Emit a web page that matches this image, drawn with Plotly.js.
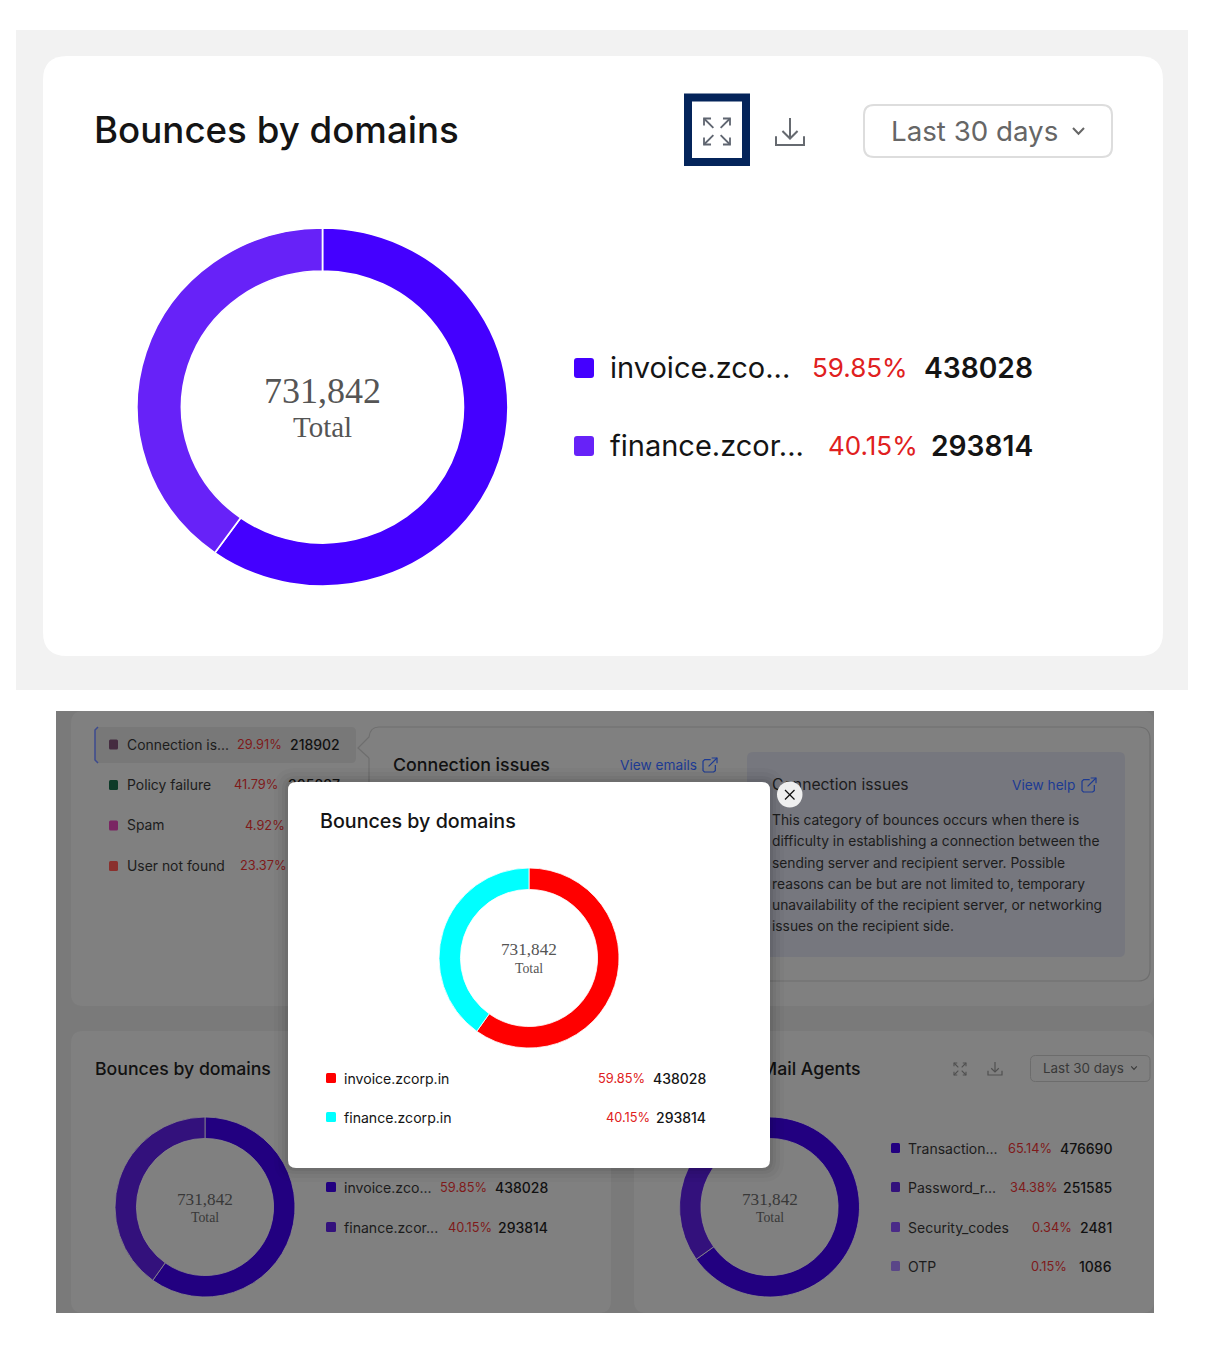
<!DOCTYPE html>
<html><head><meta charset="utf-8">
<script src="https://cdn.plot.ly/plotly-3.0.1.min.js"></script>
<style>html,body{margin:0;padding:0;background:#fff}#base,#modal{position:absolute;left:0;top:0;width:1220px;height:1358px}</style>
</head><body>
<div id="base"></div><div id="modal"></div>
<script>
// ---- data ----
const chartTitle = "Bounces by domains";
const totalText = "731,842";
const totalLabel = "Total";
const rangeLabel = "Last 30 days";
const domainValues = [438028, 293814];
const domainPct = ["59.85%", "40.15%"];
const domainShort = ["invoice.zco...", "finance.zcor..."];
const domainFull = ["invoice.zcorp.in", "finance.zcorp.in"];
const agentValues = [476690, 251585, 2481, 1086];
const agentPct = ["65.14%", "34.38%", "0.34%", "0.15%"];
const agentNames = ["Transaction...", "Password_r...", "Security_codes", "OTP"];
const categoryNames = ["Connection is...", "Policy failure", "Spam", "User not found"];
const categoryPct = ["29.91%", "41.79%", "4.92%", "23.37%"];
const categoryValues = ["218902", "305837", "", ""];
const helpLines = [
 "This category of bounces occurs when there is",
 "difficulty in establishing a connection between the",
 "sending server and recipient server. Possible",
 "reasons can be but are not limited to, temporary",
 "unavailability of the recipient server, or networking",
 "issues on the recipient side."];
// ---- styles ----
const topColors = ["#4400ff", "#6722f8"];
const dimDomainColors = ["#220080", "#33117c"];
const dimAgentColors = ["#220080", "#33117c", "#4a2a88", "#5a4688"];
const modalColors = ["#ff0000", "#00ffff"];
const categoryColors = ["#452c40", "#0d3a28", "#7a2563", "#8a302d"];
const W = 1220, H = 1358;
const FONT = "Inter", SERIF = "Liberation Serif";
const px = x => x / W, py = y => 1 - y / H;

function rr(x0, y0, x1, y1, r) {
  const P = (x, y) => px(x) + "," + py(y);
  return "M" + P(x0 + r, y0) + "L" + P(x1 - r, y0) + "Q" + P(x1, y0) + " " + P(x1, y0 + r) +
    "L" + P(x1, y1 - r) + "Q" + P(x1, y1) + " " + P(x1 - r, y1) +
    "L" + P(x0 + r, y1) + "Q" + P(x0, y1) + " " + P(x0, y1 - r) +
    "L" + P(x0, y0 + r) + "Q" + P(x0, y0) + " " + P(x0 + r, y0) + "Z";
}
function box(x0, y0, x1, y1, r, fill, line, lw, op) {
  return {type: "path", xref: "paper", yref: "paper", path: rr(x0, y0, x1, y1, r), fillcolor: fill || "rgba(0,0,0,0)",
    line: {color: line || "rgba(0,0,0,0)", width: lw || 0}, opacity: op === undefined ? 1 : op, layer: "below"};
}
function poly(pts, color, lw, fill, closed) {
  const d = "M" + pts.map(p => px(p[0]) + "," + py(p[1])).join("L") + (closed ? "Z" : "");
  return {type: "path", xref: "paper", yref: "paper", path: d, fillcolor: fill || "rgba(0,0,0,0)",
    line: {color: color, width: lw}, layer: "below"};
}
function T(x, y, text, size, color, anchor, weight, family) {
  return {xref: "paper", yref: "paper", x: px(x), y: py(y), text: text, showarrow: false, borderpad: 0, borderwidth: 0,
    xanchor: anchor || "left", yanchor: "middle",
    font: {size: size, color: color, family: family || FONT, weight: weight || 400}};
}
function donut(vals, colors, cx, cy, rad, hole, lineColor, lw) {
  return {type: "pie", values: vals, marker: {colors: colors, line: {color: lineColor, width: lw}},
    hole: hole, sort: false, direction: "clockwise", rotation: 0, textinfo: "none", hoverinfo: "skip", showlegend: false,
    domain: {x: [px(cx - rad), px(cx + rad)], y: [py(cy + rad), py(cy - rad)]}};
}
function expandIcon(x0, y0, s, c, lw) { // s = icon box size
  const g = s * 0.36, a = s * 0.27, out = [];
  [[0, 0, 1, 1], [1, 0, -1, 1], [0, 1, 1, -1], [1, 1, -1, -1]].forEach(k => {
    const ox = x0 + k[0] * s, oy = y0 + k[1] * s;
    out.push(poly([[ox + k[2] * a, oy], [ox, oy], [ox, oy + k[3] * a]], c, lw));
    out.push(poly([[ox, oy], [ox + k[2] * g, oy + k[3] * g]], c, lw));
  });
  return out;
}
function downloadIcon(x0, y0, w, h, c, lw) {
  const mx = x0 + w / 2;
  return [poly([[x0, y0 + h * 0.68], [x0, y0 + h], [x0 + w, y0 + h], [x0 + w, y0 + h * 0.68]], c, lw),
    poly([[mx, y0], [mx, y0 + h * 0.76]], c, lw),
    poly([[mx - w * 0.27, y0 + h * 0.48], [mx, y0 + h * 0.76], [mx + w * 0.27, y0 + h * 0.48]], c, lw)];
}
function linkIcon(x0, y0, s, c, lw) {
  return [poly([[x0 + s * 0.55, y0 + s * 0.12], [x0 + s * 0.12, y0 + s * 0.12], [x0, y0 + s * 0.24], [x0, y0 + s * 0.9], [x0 + s * 0.1, y0 + s], [x0 + s * 0.76, y0 + s], [x0 + s * 0.88, y0 + s * 0.9], [x0 + s * 0.88, y0 + s * 0.5]], c, lw),
    poly([[x0 + s * 0.4, y0 + s * 0.6], [x0 + s, y0]], c, lw),
    poly([[x0 + s * 0.62, y0], [x0 + s, y0], [x0 + s, y0 + s * 0.38]], c, lw)];
}
function chevron(cx, cy, w, c, lw) {
  return poly([[cx - w, cy - w * 0.55], [cx, cy + w * 0.5], [cx + w, cy - w * 0.55]], c, lw);
}

// ---------- base layer ----------
const INK = "#141414", RED = "#e02020", DRED = "#7f1a1a", DINK = "#111111", DTXT = "#1c1c1c", BLUE = "#1c3a93";
const S = [], A = [];
// top card
S.push(box(16, 30, 1188, 690, 0, "#f2f2f2"));
S.push(box(43, 56, 1163, 656, 24, "#ffffff"));
A.push(T(94, 129.5, chartTitle, 36.7, INK, "left", 500));
S.push(box(688, 97.5, 746, 162, 0, "#ffffff", "#04245a", 8));
S.push(...expandIcon(704, 118.5, 26, "#5f6570", 1.8));
S.push(...downloadIcon(776, 118, 28, 27, "#666a70", 2));
S.push(box(864, 105, 1112, 157, 10, "#ffffff", "#dddddd", 2));
A.push(T(891, 131, rangeLabel, 27.7, "#666666"));
S.push(chevron(1078.5, 131, 5.5, "#666666", 2));
A.push(T(322.5, 391, totalText, 36, "#555555", "center", 400, SERIF));
A.push(T(322.5, 426.5, totalLabel, 29, "#555555", "center", 400, SERIF));
const topRows = [368, 446], topPctX = [908, 918];
domainShort.forEach((n, i) => {
  S.push(box(574, topRows[i] - 10, 594, topRows[i] + 10, 3, topColors[i]));
  A.push(T(610, topRows[i], n, 29, INK));
  A.push(T(topPctX[i], topRows[i], domainPct[i], 26, RED, "right"));
  A.push(T(1033, topRows[i], String(domainValues[i]), 28.2, INK, "right", 600));
});
// dimmed dashboard
S.push(box(56, 711, 1154, 1313, 0, "#7a7a7a"));
S.push(box(71, 711, 1154, 1006, 12, "#808080"));
S.push(box(71, 1031, 611, 1313, 12, "#808080"));
S.push(box(634, 1031, 1154, 1313, 12, "#808080"));
S.push(box(95, 727, 356, 763, 5, "#787878"));
S.push(poly([[98, 727], [95, 730], [95, 760], [98, 763]], "#3c4a8e", 1.5));
const catRows = [744.5, 785, 825.5, 866], catPctX = [282, 278, 285, 286];
categoryNames.forEach((n, i) => {
  S.push(box(109, catRows[i] - 5, 118, catRows[i] + 5, 1.5, categoryColors[i]));
  A.push(T(127, catRows[i], n, 13.9, DTXT));
  A.push(T(catPctX[i], catRows[i], categoryPct[i], 12.8, DRED, "right"));
  if (categoryValues[i]) A.push(T(340, catRows[i], categoryValues[i], 14, DINK, "right", 500));
});
// detail panel with callout
S.push({type: "path", xref: "paper", yref: "paper", layer: "below", fillcolor: "rgba(0,0,0,0)", line: {color: "#6e6e6e", width: 1.2},
  path: (function () {
    const P = (x, y) => px(x) + "," + py(y);
    return "M" + P(379, 727) + "L" + P(1138, 727) + "Q" + P(1150, 727) + " " + P(1150, 739) + "L" + P(1150, 969) + "Q" + P(1150, 981) + " " + P(1138, 981) +
      "L" + P(369, 981) + "M" + P(369, 758) + "L" + P(358, 748) + "L" + P(369, 737) + "Q" + P(370, 727) + " " + P(379, 727);
  })()});
S.push(poly([[369, 758], [369, 981]], "#6e6e6e", 1.2));
A.push(T(393, 764.5, "Connection issues", 17.8, DINK, "left", 500));
A.push(T(620, 764.5, "View emails", 13.7, BLUE));
S.push(...linkIcon(703, 758, 14, BLUE, 1.2));
S.push(box(747, 752, 1125, 957, 6, "#76777e"));
A.push(T(772, 785, "Connection issues", 15.7, DTXT));
A.push(T(1012, 785, "View help", 13.7, BLUE));
S.push(...linkIcon(1082, 778, 14, BLUE, 1.2));
const helpRows = [819.5, 840.5, 862.5, 883.5, 904.5, 925.5];
helpLines.forEach((l, i) => A.push(T(772, helpRows[i], l, 13.8, "#1c1c1c")));
// lower left card
A.push(T(95, 1068, chartTitle, 17.7, DINK, "left", 500));
A.push(T(205, 1199, totalText, 17.2, "#383838", "center", 400, SERIF));
A.push(T(205, 1217, totalLabel, 13.8, "#383838", "center", 400, SERIF));
const lowRows = [1187, 1227], lowPctX = [487, 492];
domainShort.forEach((n, i) => {
  S.push(box(326, lowRows[i] - 5, 336, lowRows[i] + 5, 1.5, dimDomainColors[i]));
  A.push(T(344, lowRows[i], n, 14.1, DTXT));
  A.push(T(lowPctX[i], lowRows[i], domainPct[i], 12.8, DRED, "right"));
  A.push(T(548, lowRows[i], String(domainValues[i]), 14, DINK, "right", 500));
});
// lower right card
A.push(T(861, 1068, "Mail Agents", 17.7, DINK, "right", 500));
S.push(...expandIcon(954, 1063, 12, "#505050", 1.1));
S.push(...downloadIcon(988, 1062, 14, 13, "#505050", 1.2));
S.push(box(1030.5, 1055.5, 1150, 1081.5, 5, "#808080", "#6c6c6c", 1));
A.push(T(1043, 1068, rangeLabel, 13.4, "#383838"));
S.push(chevron(1134, 1068, 2.8, "#383838", 1.1));
A.push(T(769.5, 1199, totalText, 17.2, "#383838", "center", 400, SERIF));
A.push(T(769.5, 1217, totalLabel, 13.8, "#383838", "center", 400, SERIF));
const agentRows = [1148, 1187, 1227, 1266], agentPctX = [1052, 1057, 1072, 1067];
agentNames.forEach((n, i) => {
  S.push(box(891, agentRows[i] - 5, 900, agentRows[i] + 5, 1.5, dimAgentColors[i]));
  A.push(T(908, agentRows[i], n, 14, DTXT));
  A.push(T(agentPctX[i], agentRows[i], agentPct[i], 12.8, DRED, "right"));
  A.push(T(1112, agentRows[i], String(agentValues[i]), 14, DINK, "right", 500));
});
const baseLayout = {width: W, height: H, margin: {l: 0, r: 0, t: 0, b: 0}, paper_bgcolor: "#ffffff", plot_bgcolor: "#ffffff",
  xaxis: {visible: false}, yaxis: {visible: false}, shapes: S, annotations: A, showlegend: false, hovermode: false};
const baseTraces = [
  donut(domainValues, topColors, 322.5, 407, 179, 0.76, "#ffffff", 1.6),
  donut(domainValues, dimDomainColors, 205, 1207, 90, 0.762, "#8a8a8a", 0.8),
  donut(agentValues, dimAgentColors, 769.5, 1207, 90, 0.762, "#8a8a8a", 0.8)
];

// ---------- modal layer ----------
const MS = [], MA = [];
[[14, .025], [10, .03], [6, .04], [3, .05]].forEach(k => MS.push(box(288 - k[0], 782 - k[0], 770 + k[0], 1168 + k[0], 8 + k[0], "#000000", null, 0, k[1])));
MS.push(box(288, 782, 770, 1168, 8, "#ffffff"));
MA.push(T(320, 821, chartTitle, 19.7, INK, "left", 500));
MA.push(T(529, 950, totalText, 17.2, "#555555", "center", 400, SERIF));
MA.push(T(529, 968, totalLabel, 13.8, "#555555", "center", 400, SERIF));
const modalRows = [1078, 1117], modalPctX = [645, 650];
domainFull.forEach((n, i) => {
  MS.push(box(326, modalRows[i] - 5, 336, modalRows[i] + 5, 1.5, modalColors[i]));
  MA.push(T(344, modalRows[i], n, 14.1, INK));
  MA.push(T(modalPctX[i], modalRows[i], domainPct[i], 12.8, RED, "right"));
  MA.push(T(706, modalRows[i], String(domainValues[i]), 14, INK, "right", 500));
});
// close button
MS.push({type: "circle", xref: "paper", yref: "paper", x0: px(777), x1: px(802.5), y0: py(807.5), y1: py(781.5), fillcolor: "#efefef", line: {width: 0}, layer: "below"});
MS.push(poly([[785, 790], [794.5, 799.5]], "#111111", 1.3));
MS.push(poly([[794.5, 790], [785, 799.5]], "#111111", 1.3));
const modalLayout = {width: W, height: H, margin: {l: 0, r: 0, t: 0, b: 0}, paper_bgcolor: "rgba(0,0,0,0)", plot_bgcolor: "rgba(0,0,0,0)",
  xaxis: {visible: false}, yaxis: {visible: false}, shapes: MS, annotations: MA, showlegend: false, hovermode: false};
const modalTraces = [donut(domainValues, modalColors, 529, 958, 90, 0.762, "#ffffff", 0.8)];

const cfg = {displayModeBar: false, staticPlot: true};
Plotly.newPlot("base", baseTraces, baseLayout, cfg).then(gd => {
  // the reference screenshot is stretched slightly wider than tall at the top
  const tr = gd.querySelector(".pielayer .trace");
  if (tr) tr.setAttribute("transform", "translate(322.5,407) scale(1.036,1) translate(-322.5,-407)");
});
Plotly.newPlot("modal", modalTraces, modalLayout, cfg);
</script>
</body></html>
